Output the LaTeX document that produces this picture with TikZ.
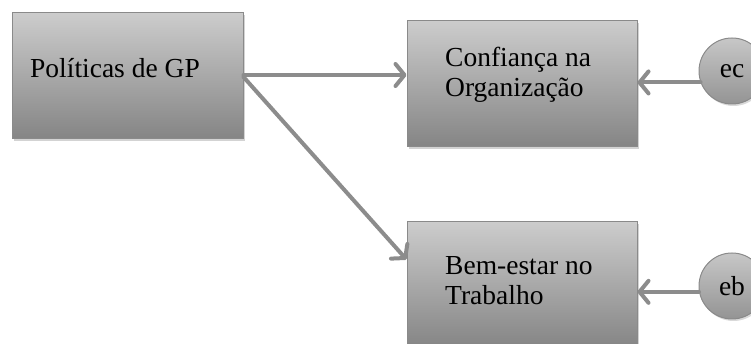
\documentclass[tikz,border=0pt]{standalone}
\usepackage{fontspec}
\setmainfont{Liberation Serif}
\usetikzlibrary{arrows.meta,shadows,calc}
\definecolor{edgegray}{HTML}{8A8A8A}
\definecolor{arrowgray}{HTML}{8C8C8C}
\begin{document}
\begin{tikzpicture}[x=1pt,y=1pt,
  boxnode/.style={draw=edgegray, line width=1pt, top color=black!20, bottom color=black!48,
    minimum width=230pt, minimum height=126pt, inner sep=0pt,
    drop shadow={opacity=0.35, shadow xshift=1.5pt, shadow yshift=-2.5pt}},
  errnode/.style={circle, draw=edgegray, line width=1pt, top color=black!22, bottom color=black!42,
    minimum size=66pt, inner sep=0pt,
    drop shadow={opacity=0.3, shadow xshift=1.5pt, shadow yshift=-2pt}},
  txt/.style={font=\fontsize{27.5}{30}\selectfont, align=left, inner sep=0pt, anchor=base west},
  conn/.style={draw=arrowgray, line width=4pt, line cap=round,
    -{Straight Barb[length=9pt, width=22pt, line width=4pt, round]}}
]
\useasboundingbox (0,0) rectangle (751,344);
\node[boxnode, minimum width=231pt] (b1) at (127.5,268) {};
\node[boxnode] (b2) at (522,260) {};
\node[boxnode] (b3) at (522,59) {};
\node[errnode] (ec) at (732,273) {};
\node[errnode] (eb) at (732,58) {};
\node[txt] (t1) at (30,266) {Políticas de GP};
\node[txt] (t2) at (445,247) {Confiança na\\Organização};
\node[txt] (t3) at (445,39) {Bem-estar no\\Trabalho};
\node[font=\fontsize{27.5}{30}\selectfont, inner sep=0pt] (tec) at (ec) {ec};
\node[font=\fontsize{27.5}{30}\selectfont, inner sep=0pt] (teb) at (eb) {eb};
\draw[conn] ($(b1.east)+(0,1)$) -- ($(b1.east -| b2.west)+(0,1)$);
\draw[conn] ($(b1.east)+(0,-1)$) -- ($(b3.north west)+(0,-38)$);
\draw[conn] (ec.200) -- (ec.200 -| b2.east);
\draw[conn] (eb.190) -- (eb.190 -| b3.east);
\end{tikzpicture}
\end{document}
